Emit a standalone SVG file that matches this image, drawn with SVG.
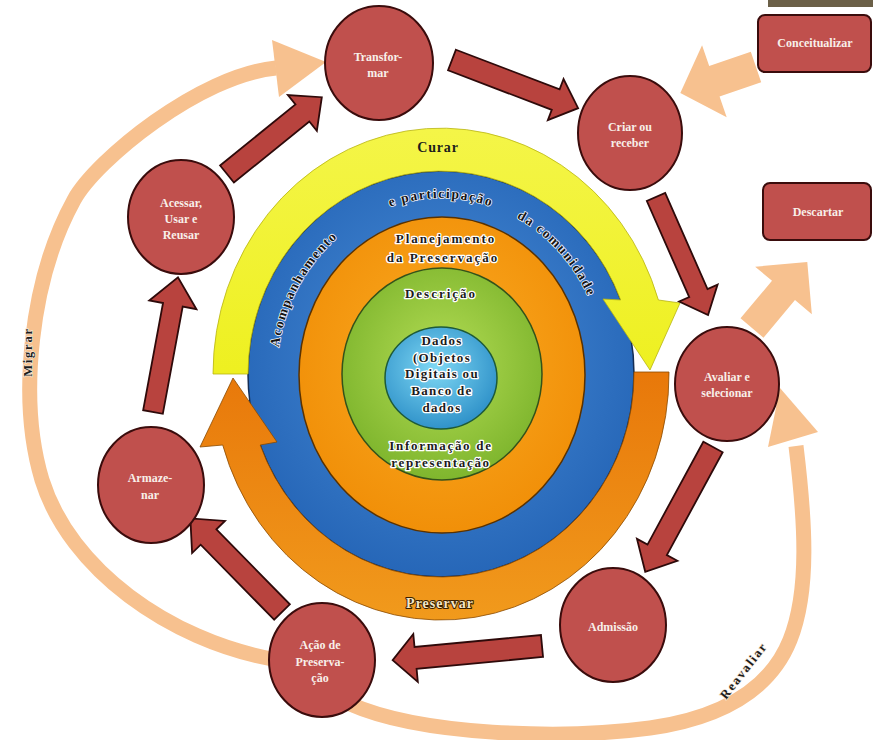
<svg xmlns="http://www.w3.org/2000/svg" width="873" height="740" viewBox="0 0 873 740">
<defs>
<radialGradient id="gDados" cx="0.45" cy="0.4" r="0.65"><stop offset="0" stop-color="#7fd8f4"/><stop offset="1" stop-color="#2a8dc6"/></radialGradient>
<radialGradient id="gGreen" cx="0.5" cy="0.45" r="0.6"><stop offset="0" stop-color="#b4dd55"/><stop offset="1" stop-color="#7ab22a"/></radialGradient>
<radialGradient id="gOrange" cx="0.5" cy="0.45" r="0.6"><stop offset="0" stop-color="#fbab22"/><stop offset="1" stop-color="#f08d06"/></radialGradient>
<radialGradient id="gBlue" cx="0.5" cy="0.45" r="0.6"><stop offset="0" stop-color="#4a8ed8"/><stop offset="1" stop-color="#2363b5"/></radialGradient>
<linearGradient id="gYellow" x1="0" y1="0" x2="0" y2="1"><stop offset="0" stop-color="#f4f548"/><stop offset="1" stop-color="#eef020"/></linearGradient>
<linearGradient id="gPres" x1="0" y1="0" x2="0" y2="1"><stop offset="0" stop-color="#e8780a"/><stop offset="1" stop-color="#f19a1c"/></linearGradient>
<style>
.node{fill:#c0504d;stroke:#3a0c0c;stroke-width:2}
.ntext{font-family:"Liberation Serif",serif;font-weight:bold;font-size:12px;fill:#f8efe9;text-anchor:middle}
.rarrow{fill:#b8433e;stroke:#2e0a0a;stroke-width:1.8;stroke-linejoin:miter}
.parrow{fill:#f7c18f}
.pband{fill:none;stroke:#f7c18f;stroke-width:15}
.ctext{font-family:"Liberation Serif",serif;font-weight:bold;font-size:13px;fill:#1c1c1c;stroke:#ffffff;stroke-width:2.6;paint-order:stroke;stroke-linejoin:round;letter-spacing:2px;text-anchor:middle}
.rtext{font-family:"Liberation Serif",serif;font-weight:bold;font-size:13.5px;fill:#141414;stroke:#eef3ff;stroke-width:1.6;paint-order:stroke;stroke-linejoin:round;letter-spacing:1.6px;text-anchor:middle}
.ltext{font-family:"Liberation Serif",serif;font-weight:bold;font-size:12.5px;fill:#1c1c1c;stroke:#f7eadb;stroke-width:1.4;paint-order:stroke;letter-spacing:1.8px;text-anchor:middle}
</style>
<path id="blueMid" d="M 277 374 A 164 176 0 0 1 605 374"/>
</defs>
<rect x="0" y="0" width="873" height="740" fill="#ffffff"/>
<rect x="768" y="0" width="105" height="7" fill="#6b6048"/>

<g id="core">
<ellipse id="ring-blue" cx="441" cy="374" rx="193" ry="203" fill="url(#gBlue)" stroke="#152e55" stroke-width="1.5"/>
<path id="arc-curar" d="M 213 374 A 228 246 0 0 1 658.4 300 L 680 303 L 650 370 L 603 299 L 620.7 300 A 193 203 0 0 0 248 374 Z" fill="url(#gYellow)" stroke="#b8b410" stroke-width="0.8"/>
<path id="arc-preservar" d="M 634 372 L 669 372 A 228 246 0 0 1 222.7 445 L 200 447 L 233 378 L 277 442 L 260.2 445 A 193 203 0 0 0 634 372 Z" fill="url(#gPres)" stroke="#8a4a00" stroke-width="0.8"/>
<ellipse id="disc-planejamento" cx="442" cy="375" rx="143" ry="158" fill="url(#gOrange)" stroke="#5a3200" stroke-width="1.5"/>
<ellipse id="disc-descricao" cx="442" cy="374" rx="100" ry="106" fill="url(#gGreen)" stroke="#34521a" stroke-width="1.5"/>
<ellipse id="disc-dados" cx="441" cy="378" rx="56" ry="51" fill="url(#gDados)" stroke="#1d5a3a" stroke-width="1.5"/>
<text class="ctext" x="438" y="152" style="font-size:14px;letter-spacing:0.8px;stroke:none">Curar</text>
<text class="ctext" x="440" y="608" style="font-size:14px;letter-spacing:1px;fill:#f5e6c6;stroke:#3a2000;stroke-width:2">Preservar</text>
<text class="rtext"><textPath href="#blueMid" startOffset="17%">Acompanhamento</textPath></text>
<text class="rtext"><textPath href="#blueMid" startOffset="50%">e participação</textPath></text>
<text class="rtext"><textPath href="#blueMid" startOffset="75%">da comunidade</textPath></text>
<text class="ctext" x="446" y="243">Planejamento</text>
<text class="ctext" x="443" y="262">da Preservação</text>
<text class="ctext" x="441" y="298">Descrição</text>
<text class="ctext" x="442" y="345" style="letter-spacing:1.3px">Dados</text>
<text class="ctext" x="442" y="362" style="letter-spacing:1.3px">(Objetos</text>
<text class="ctext" x="442" y="378" style="letter-spacing:1.3px">Digitais ou</text>
<text class="ctext" x="442" y="395" style="letter-spacing:1.3px">Banco de</text>
<text class="ctext" x="442" y="412" style="letter-spacing:1.3px">dados</text>
<text class="ctext" x="441" y="450" style="letter-spacing:1.7px">Informação de</text>
<text class="ctext" x="441" y="467" style="letter-spacing:1.7px">representação</text>
</g>

<g id="connectors">
<path id="migrar" class="pband" d="M 272 659 C 170 640 70 570 42 480 C 18 400 30 280 74 200 C 96 160 200 75 276 68"/>
<polygon class="parrow" points="272,40 326,62 279,97"/>
<text class="ltext" transform="translate(32,352) rotate(-90)">Migrar</text>
<path id="reavaliar" class="pband" d="M 350 704 C 420 735 560 740 650 728 C 720 718 770 690 790 640 C 810 590 805 520 796 446"/>
<polygon class="parrow" points="768,447 780,388 818,432"/>
<text class="ltext" transform="translate(747,673) rotate(-52)">Reavaliar</text>
<polygon class="parrow" points="0,-16 44,-16 44,-38 80,0 44,38 44,16 0,16" transform="translate(756,67) rotate(161.1)"/>
<polygon class="parrow" points="0,-15 49,-15 49,-37 86,0 49,37 49,15 0,15" transform="translate(752,328) rotate(-50)"/>
<polygon class="rarrow" points="0,-11 97,-11 97,-23 122,0 97,23 97,11 0,11" transform="translate(227,174) rotate(-39)"/>
<polygon class="rarrow" points="0,-11 111,-11 111,-22 135,0 111,22 111,11 0,11" transform="translate(452,60) rotate(20.9)"/>
<polygon class="rarrow" points="0,-10 105,-10 105,-21 129,0 105,21 105,10 0,10" transform="translate(656,197) rotate(66.2)"/>
<polygon class="rarrow" points="0,-11 117,-11 117,-23 142,0 117,23 117,11 0,11" transform="translate(713,447) rotate(118.5)"/>
<polygon class="rarrow" points="0,-11 127,-11 127,-24 150,0 127,24 127,11 0,11" transform="translate(542,646) rotate(174.6)"/>
<polygon class="rarrow" points="0,-11 105,-11 105,-23 131,0 105,23 105,11 0,11" transform="translate(282,612) rotate(-134.4)"/>
<polygon class="rarrow" points="0,-10 109,-10 109,-24 137,0 109,24 109,10 0,10" transform="translate(153,412) rotate(-79.5)"/>
</g>

<g id="node-transformar"><ellipse class="node" cx="379" cy="63" rx="54" ry="57"/><text class="ntext" x="378" y="61">Transfor-</text><text class="ntext" x="378" y="77">mar</text></g>
<g id="node-criar"><ellipse class="node" cx="630" cy="133" rx="52" ry="57"/><text class="ntext" x="630" y="131">Criar ou</text><text class="ntext" x="630" y="147">receber</text></g>
<g id="node-avaliar"><ellipse class="node" cx="727" cy="384" rx="52" ry="57"/><text class="ntext" x="727" y="381">Avaliar e</text><text class="ntext" x="727" y="397">selecionar</text></g>
<g id="node-admissao"><ellipse class="node" cx="613" cy="625" rx="53" ry="57"/><text class="ntext" x="613" y="631">Admissão</text></g>
<g id="node-acao"><ellipse class="node" cx="322" cy="660" rx="53" ry="57"/><text class="ntext" x="320" y="649">Ação de</text><text class="ntext" x="320" y="666">Preserva-</text><text class="ntext" x="320" y="682">ção</text></g>
<g id="node-armazenar"><ellipse class="node" cx="151" cy="485" rx="53" ry="58"/><text class="ntext" x="150" y="482">Armaze-</text><text class="ntext" x="150" y="499">nar</text></g>
<g id="node-acessar"><ellipse class="node" cx="181" cy="217" rx="53" ry="57"/><text class="ntext" x="181" y="207">Acessar,</text><text class="ntext" x="181" y="223">Usar e</text><text class="ntext" x="181" y="239">Reusar</text></g>
<g id="node-conceitualizar"><rect class="node" x="758" y="15" width="113" height="57" rx="7"/><text class="ntext" x="815" y="47">Conceitualizar</text></g>
<g id="node-descartar"><rect class="node" x="763" y="183" width="108" height="57" rx="7"/><text class="ntext" x="818" y="216">Descartar</text></g>
</svg>
